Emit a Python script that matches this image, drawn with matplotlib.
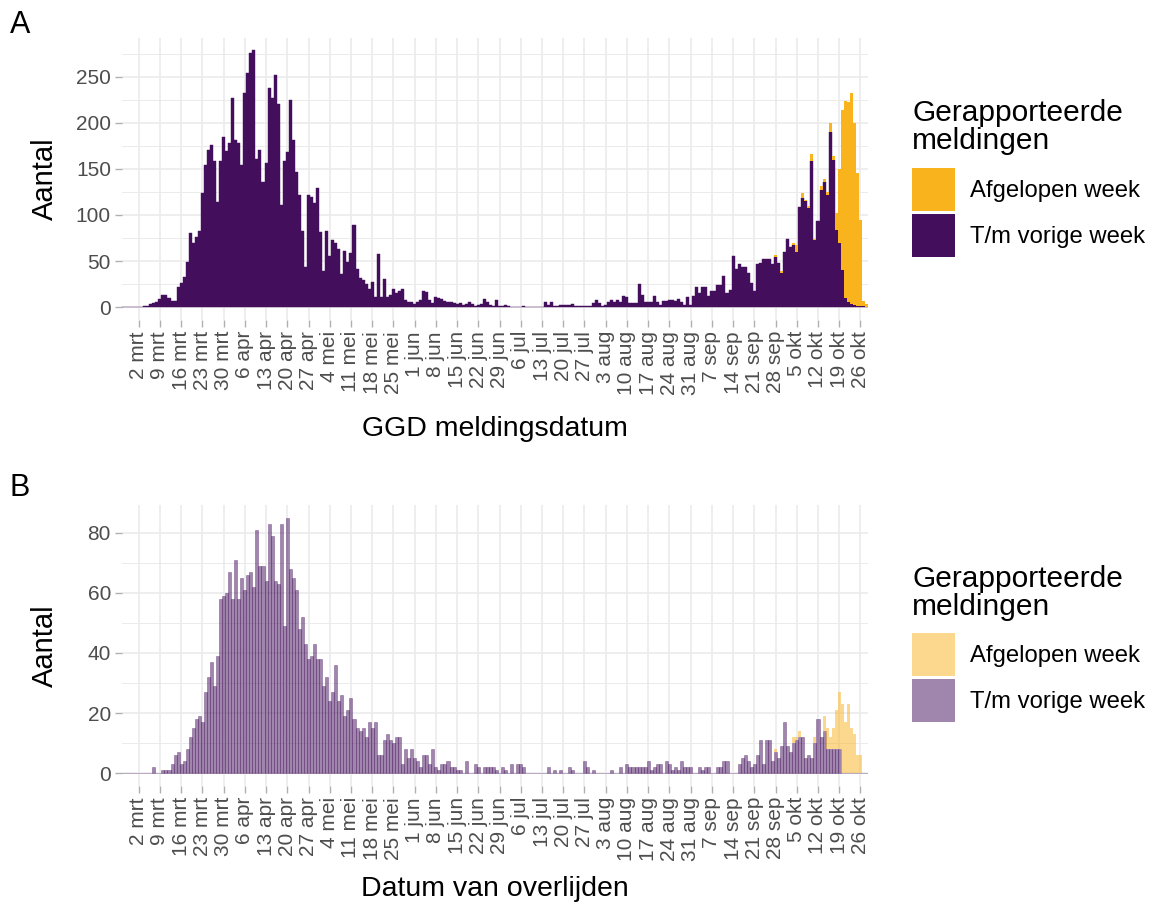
import numpy as np
import pandas as pd
import matplotlib
matplotlib.use("Agg")
import matplotlib.pyplot as plt
from matplotlib.colors import to_rgba
from matplotlib.patches import Patch
from matplotlib.ticker import MultipleLocator

plt.rcParams["font.family"] = ["Liberation Sans", "DejaVu Sans"]

PURPLE = "#430E5B"
ORANGE = "#F9B31C"

# one bar per day, 26 feb t/m 28 okt 2020
days = pd.date_range("2020-02-26", "2020-10-28", freq="D")
week_ticks = pd.date_range("2020-03-02", "2020-10-26", freq="7D")
tick_labels = ["2 mrt", "9 mrt", "16 mrt", "23 mrt", "30 mrt", "6 apr", "13 apr",
               "20 apr", "27 apr", "4 mei", "11 mei", "18 mei", "25 mei", "1 jun",
               "8 jun", "15 jun", "22 jun", "29 jun", "6 jul", "13 jul", "20 jul",
               "27 jul", "3 aug", "10 aug", "17 aug", "24 aug", "31 aug", "7 sep",
               "14 sep", "21 sep", "28 sep", "5 okt", "12 okt", "19 okt", "26 okt"]

# A: GGD meldingen, t/m vorige week (rows = weeks starting on monday)
meld_vorige = [
    0, 0, 0, 0, 0,
    0, 0, 1, 1, 3, 4, 5,
    9, 13, 13, 10, 7, 7, 22,
    26, 33, 49, 80, 70, 76, 83,
    124, 154, 170, 176, 158, 114, 158,
    185, 169, 178, 227, 181, 178, 154,
    232, 254, 276, 279, 161, 170, 136,
    156, 238, 227, 252, 220, 111, 158,
    168, 225, 181, 147, 122, 83, 43,
    122, 119, 113, 129, 82, 39, 83,
    55, 73, 69, 63, 36, 61, 49,
    59, 89, 41, 32, 29, 25, 20,
    27, 11, 58, 11, 31, 11, 13,
    20, 15, 17, 20, 8, 6, 6,
    3, 6, 8, 17, 16, 8, 4,
    11, 10, 9, 7, 6, 5, 4,
    3, 4, 2, 3, 6, 3, 1,
    2, 3, 9, 5, 2, 1, 8,
    1, 1, 2, 1, 0, 0, 0,
    0, 1, 0, 0, 0, 0, 0,
    0, 5, 2, 5, 1, 1, 2,
    2, 2, 2, 3, 1, 1, 1,
    1, 1, 1, 4, 8, 4, 1,
    2, 6, 8, 6, 8, 5, 12,
    11, 4, 4, 4, 25, 13, 6,
    6, 6, 12, 6, 2, 7, 7,
    8, 8, 7, 9, 6, 2, 11,
    2, 12, 22, 15, 22, 22, 12,
    17, 18, 24, 24, 34, 15, 19,
    55, 41, 47, 44, 44, 37, 26,
    18, 47, 48, 52, 52, 52, 47,
    54, 48, 37, 60, 74, 65, 67,
    60, 109, 118, 115, 107, 158, 73,
    93, 127, 136, 122, 190, 160, 84,
    70, 40, 10, 5, 3, 2, 1,
    1, 1, 0,
]
# A: afgelopen week, from 28 sep
meld_afgelopen_vanaf = "2020-09-28"
meld_afgelopen = [
    2, 0, 2, 0, 0, 0, 3,
    7, 0, 6, 1, 3, 8, 1,
    0, 4, 3, 3, 10, 4, 18,
    80, 174, 214, 218, 229, 198, 145,
    94, 6, 3,
]

# B: overlijdens, t/m vorige week
overl_vorige = [
    0, 0, 0, 0, 0,
    0, 0, 0, 0, 0, 2, 0,
    0, 1, 1, 1, 3, 6, 7,
    3, 4, 8, 12, 15, 18, 19,
    17, 27, 32, 37, 29, 39, 58,
    59, 60, 67, 58, 71, 58, 65,
    61, 66, 67, 62, 81, 69, 69,
    64, 83, 79, 64, 63, 83, 49,
    85, 68, 65, 61, 48, 52, 43,
    38, 39, 43, 38, 38, 29, 32,
    24, 27, 36, 24, 26, 19, 21,
    25, 18, 15, 14, 15, 12, 17,
    15, 17, 6, 6, 11, 13, 11,
    10, 12, 12, 3, 8, 5, 8,
    5, 4, 2, 6, 6, 3, 8,
    2, 1, 3, 3, 4, 2, 2,
    1, 1, 0, 4, 0, 0, 3,
    2, 0, 2, 2, 2, 2, 1,
    0, 2, 1, 0, 3, 0, 3,
    3, 2, 0, 0, 0, 0, 0,
    0, 0, 2, 0, 1, 0, 1,
    0, 0, 2, 1, 0, 0, 0,
    4, 2, 0, 1, 0, 0, 0,
    0, 0, 1, 0, 0, 2, 0,
    3, 2, 2, 2, 2, 2, 2,
    4, 1, 2, 3, 3, 0, 4,
    3, 1, 2, 1, 4, 2, 2,
    2, 0, 0, 2, 1, 2, 2,
    0, 0, 2, 2, 4, 4, 0,
    0, 0, 3, 5, 6, 4, 2,
    3, 6, 11, 3, 11, 11, 4,
    7, 5, 9, 17, 9, 7, 10,
    11, 12, 12, 5, 6, 5, 10,
    18, 12, 14, 8, 8, 8, 8,
    8, 0, 0, 0, 0, 0, 0,
    0, 0, 0,
]
overl_afgelopen_vanaf = "2020-09-28"
overl_afgelopen = [
    1, 0, 0, 0, 0, 0, 2,
    1, 2, 0, 0, 0, 0, 2,
    0, 0, 5, 7, 4, 7, 13,
    19, 23, 17, 23, 15, 13, 6,
    6, 0, 0,
]


def tail_to_full(values, start):
    full = np.zeros(len(days))
    full[days >= pd.Timestamp(start)] = values
    return full


def draw_panel(ax, prev, last, alpha, ylim, major, minor, xlabel):
    prev = np.array(prev, dtype=float)
    face_p = to_rgba(PURPLE, alpha)
    face_o = to_rgba(ORANGE, alpha)
    edge_p = to_rgba(PURPLE, 0.55 if alpha < 1 else 1.0)
    ax.bar(days, prev, width=1.0, color=face_p, edgecolor=edge_p,
           linewidth=0.4 if alpha < 1 else 0.3, zorder=2)
    mask = last > 0
    ax.bar(days[mask], last[mask], bottom=prev[mask], width=1.0, color=face_o,
           linewidth=0, zorder=2)

    ax.set_xlim(days[0] - pd.Timedelta(hours=12), days[-1] + pd.Timedelta(hours=12))
    ax.set_ylim(*ylim)
    ax.set_xticks(week_ticks)
    ax.set_xticklabels(tick_labels, rotation=90, ha="center", va="top")
    ax.yaxis.set_major_locator(MultipleLocator(major))
    ax.yaxis.set_minor_locator(MultipleLocator(minor))
    ax.grid(which="major", color="#EBEBEB", linewidth=1.2, zorder=0)
    ax.grid(which="minor", axis="y", color="#EBEBEB", linewidth=0.7, zorder=0)
    ax.set_axisbelow(True)
    for s in ax.spines.values():
        s.set_visible(False)
    ax.tick_params(axis="both", which="major", labelsize=15, labelcolor="#4D4D4D",
                   color="#B0B0B0", length=5, width=1, pad=3)
    ax.tick_params(axis="y", which="minor", length=0)
    ax.set_ylabel("Aantal", fontsize=21)
    ax.yaxis.set_label_coords(-0.084, 0.5)
    ax.set_xlabel(xlabel, fontsize=20.5)

    handles = [Patch(facecolor=face_o, edgecolor="none", label="Afgelopen week"),
               Patch(facecolor=face_p, edgecolor="none", label="T/m vorige week")]
    return handles


fig = plt.figure(figsize=(11.52, 9.06), dpi=100)
ax_a = fig.add_axes([0.1059, 0.6468, 0.6476, 0.3113])
ax_b = fig.add_axes([0.1059, 0.1325, 0.6476, 0.3101])

afg_a = tail_to_full(meld_afgelopen, meld_afgelopen_vanaf)
afg_b = tail_to_full(overl_afgelopen, overl_afgelopen_vanaf)

h_a = draw_panel(ax_a, meld_vorige, afg_a, 1.0, (-14, 292), 50, 25, "GGD meldingsdatum")
h_b = draw_panel(ax_b, overl_vorige, afg_b, 0.5, (-4.25, 89.25), 20, 10, "Datum van overlijden")
ax_a.xaxis.set_label_coords(0.5, -0.34)
ax_b.xaxis.set_label_coords(0.5, -0.32)

# legend: title as separate text, keys below it
for ax, handles, title_top, keys_top in [(ax_a, h_a, 99, 168), (ax_b, h_b, 565, 633)]:
    fig.text(912 / 1152, 1 - title_top / 906, "Gerapporteerde\nmeldingen",
             fontsize=21.5, linespacing=1.0, ha="left", va="top")
    ax.legend(handles=handles, loc="upper left",
              bbox_to_anchor=(912 / 1152, 1 - keys_top / 906),
              bbox_transform=fig.transFigure, frameon=False, fontsize=17.2,
              handlelength=1.8, handleheight=2.42, labelspacing=0.1,
              handletextpad=0.62, borderpad=0, borderaxespad=0)

fig.text(10 / 1152, 1 - 25 / 906, "A", fontsize=22, va="center", ha="left")
fig.text(10 / 1152, 1 - 488 / 906, "B", fontsize=22, va="center", ha="left")

fig.savefig("out.png", dpi=100)
